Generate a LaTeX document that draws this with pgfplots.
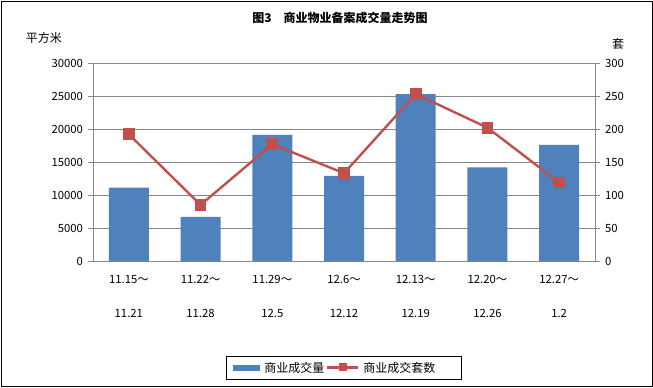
\documentclass[border=0pt]{standalone}
\usepackage{pgfplots}
\pgfplotsset{compat=1.18}
\usepackage{fontspec}
\setmainfont{Noto Sans CJK SC}
\definecolor{barblue}{RGB}{79,129,189}
\definecolor{linered}{RGB}{192,80,77}
\definecolor{gridgray}{RGB}{134,134,134}
\begin{document}
\begin{tikzpicture}[x=0.75pt,y=0.75pt]
\path[use as bounding box] (0,0) rectangle (653,387);
\draw[black,line width=0.75pt] (1,1) rectangle (652,386);
\node[font=\bfseries\fontsize{9}{10}\selectfont] at (340,369) {图3\quad 商业物业备案成交量走势图};
\node[font=\fontsize{9}{10}\selectfont] at (44,349) {平方米};
\node[font=\fontsize{9}{10}\selectfont] at (618,343) {套};
\begin{axis}[
  at={(69.75pt,94.5pt)}, anchor=south west,
  scale only axis, width=376.5pt, height=148.5pt,
  xmin=-0.5, xmax=6.5, ymin=0, ymax=30000,
  ytick={0,5000,...,30000},
  axis y line*=left, axis x line*=bottom,
  axis line style={gridgray},
  x axis line style={-}, y axis line style={-},
  ymajorgrids, grid style={gridgray,line width=0.6pt},
  ytick style={gridgray}, tick align=outside, major tick length=4pt,
  xtick={0,...,6}, xtick style={draw=none},
  xticklabels={{11.15～\\[17pt]11.21},{11.22～\\[17pt]11.28},{11.29～\\[17pt]12.5},{12.6～\\[17pt]12.12},{12.13～\\[17pt]12.19},{12.20～\\[17pt]12.26},{12.27～\\[17pt]1.2}},
  xticklabel style={align=center, font=\fontsize{8.5}{9}\selectfont, yshift=-3pt},
  yticklabel style={font=\fontsize{8.5}{9}\selectfont},
  /pgf/number format/assume math mode=true,
  scaled y ticks=false,
  yticklabel={\pgfmathprintnumber[fixed,1000 sep={}]{\tick}},
]
\addplot[ybar, bar width=30pt, fill=barblue, draw=none, forget plot] coordinates {
(0,11100) (1,6700) (2,19100) (3,12900) (4,25300) (5,14200) (6,17600)};
\end{axis}
\begin{axis}[
  at={(69.75pt,94.5pt)}, anchor=south west,
  scale only axis, width=376.5pt, height=148.5pt,
  xmin=-0.5, xmax=6.5, ymin=0, ymax=300,
  ytick={0,50,...,300},
  axis y line*=right, axis x line=none,
  axis line style={gridgray}, y axis line style={-},
  ytick style={gridgray}, tick align=outside, major tick length=4pt,
  yticklabel style={font=\fontsize{8.5}{9}\selectfont},
  /pgf/number format/assume math mode=true,
  xtick=\empty,
]
\addplot[linered, line width=1.8pt, mark=square*, mark size=3.5pt, mark options={fill=linered,draw=linered}] coordinates {
(0,192) (1,85) (2,177) (3,133) (4,253) (5,202) (6,119)};
\end{axis}
% legend
\draw[black,line width=0.6pt] (226,8) rectangle (461,31);
\fill[barblue] (233,16.5) rectangle (260,22.5);
\node[anchor=west,inner sep=0pt,font=\fontsize{9}{10}\selectfont] at (264,19.5) {商业成交量};
\draw[linered,line width=1.8pt] (327,19.5) -- (358,19.5);
\fill[linered] (338.5,16) rectangle (346.5,24);
\node[anchor=west,inner sep=0pt,font=\fontsize{9}{10}\selectfont] at (363,19.5) {商业成交套数};
\end{tikzpicture}
\end{document}
